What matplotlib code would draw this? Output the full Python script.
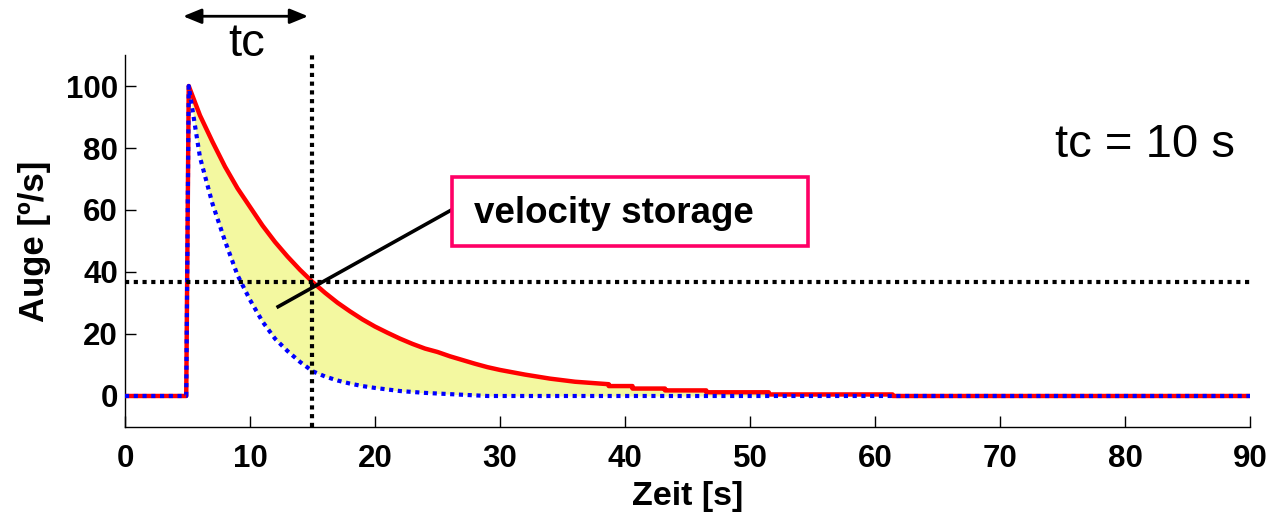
import matplotlib.pyplot as plt

plt.rcParams["font.family"] = ["Liberation Sans", "DejaVu Sans"]

# time axis (s), shared by both traces; repeated times mark the steps in the tail
t = [0, 4.9, 5.1, 6, 7, 8, 9, 10, 11, 12, 13, 14, 15, 16, 17, 18, 19, 20,
     21, 22, 23, 24, 25, 26, 27, 28, 29, 30, 32, 34, 36, 38.7, 38.7, 40.6,
     40.6, 43.2, 43.2, 46.5, 46.5, 51.5, 51.5, 61.4, 61.4, 90]

# eye velocity with velocity storage (red) and without (blue), deg/s
eye_vs = [0, 0, 100, 90.5, 82, 74, 67, 61, 55, 49.7, 45, 40.7, 36.8, 33.3,
          30.1, 27.3, 24.7, 22.4, 20.4, 18.5, 16.8, 15.3, 14.2, 12.8, 11.6,
          10.4, 9.3, 8.4, 6.9, 5.6, 4.6, 3.8, 3.2, 3.2, 2.4, 2.4, 1.8, 1.8,
          1.2, 1.2, 0.5, 0.5, 0, 0]
eye_direct = [0, 0, 100, 77, 62, 50, 39, 31, 24, 18.5, 14.5, 11, 8, 6.3,
              5, 4, 3.2, 2.6, 2.1, 1.6, 1.3, 1.0, 0.8, 0.6, 0.4, 0.2, 0, 0,
              0, 0, 0, 0, 0, 0, 0, 0, 0, 0, 0, 0, 0, 0, 0, 0]

tc_start = 5
tc_end = 15
tc_level = 36.8

xticks = list(range(0, 91, 10))
yticks = list(range(0, 101, 20))

fig = plt.figure(figsize=(12.74, 5.16), dpi=100)
ax = fig.add_axes([0.0981, 0.1725, 0.8831, 0.7209])

ax.fill_between(t, eye_direct, eye_vs, color="#f3f8a0", lw=0, zorder=1)
ax.plot(t, eye_vs, color="#ff0000", lw=3.2, zorder=3)
ax.plot(t, eye_direct, color="#0000ff", lw=3.0, linestyle=(0, (1, 1.1)), zorder=4)

# time constant markers
ax.plot([tc_end, tc_end], [-10, 110], color="black", lw=3.0, linestyle=(0, (1, 1.1)),
        zorder=5, clip_on=False)
ax.plot([0, 90], [tc_level, tc_level], color="black", lw=3.0, linestyle=(0, (1, 1.1)),
        zorder=5, clip_on=False)

ax.annotate("", xy=(tc_start - 0.35, 122.5), xytext=(tc_end - 0.35, 122.5),
            annotation_clip=False,
            arrowprops=dict(arrowstyle="<|-|>,head_length=1.1,head_width=0.45",
                            color="black", lw=2, shrinkA=0, shrinkB=0))
ax.text(9.75, 113.5, "tc", fontsize=34, ha="center", va="center", clip_on=False)

ax.text(74.4, 81, "tc = 10 s", fontsize=34, ha="left", va="center")

# pointer and label box
ax.plot([12.25, 26.2], [28.8, 60.2], color="black", lw=2.6, zorder=6)
box = plt.Rectangle((26.2, 48.3), 28.4, 22.4, facecolor="white",
                    edgecolor="#ff0066", lw=2.6, zorder=6.5)
ax.add_patch(box)
ax.text(27.9, 59, "velocity storage", fontsize=26.5, fontweight="bold",
        ha="left", va="center", zorder=7)

ax.set_xlim(0, 90)
ax.set_ylim(-10, 110)
ax.set_xticks(xticks)
ax.set_yticks(yticks)
for side in ["top", "right"]:
    ax.spines[side].set_visible(False)
for side in ["left", "bottom"]:
    ax.spines[side].set_linewidth(1)
ax.tick_params(direction="in", length=8, width=1, labelsize=22.5)
ax.tick_params(axis="x", pad=12)
ax.tick_params(axis="y", pad=5)
for lab in ax.get_xticklabels() + ax.get_yticklabels():
    lab.set_fontweight("bold")

ax.set_xlabel("Zeit [s]", fontsize=24.5, fontweight="bold", labelpad=5)
ax.set_ylabel("Auge [º/s]", fontsize=25, fontweight="bold", labelpad=11)

fig.savefig("out.png", dpi=100)
